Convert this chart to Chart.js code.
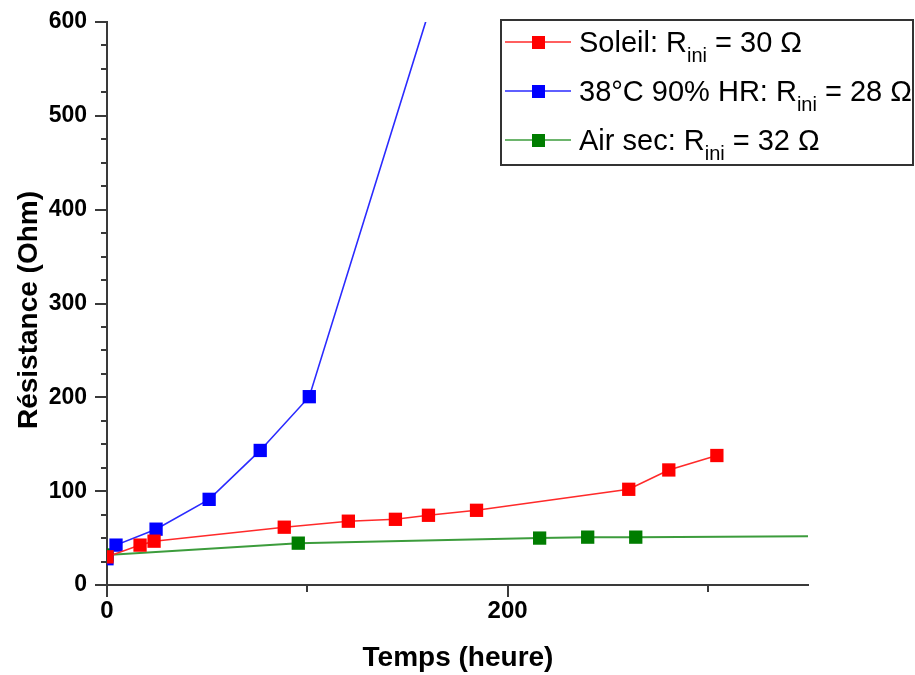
<!DOCTYPE html>
<html>
<head>
<meta charset="utf-8">
<script src="https://cdn.jsdelivr.net/npm/chart.js@4.4.0/dist/chart.umd.min.js"></script>
<style>
  html, body { margin: 0; padding: 0; background: #ffffff; }
  #wrap { width: 915px; height: 675px; }
</style>
</head>
<body>
<div id="wrap"><canvas id="c" width="915" height="675"></canvas></div>
<script>
// ---- data ----
const seriesNames = ['Soleil', '38°C 90% HR', 'Air sec'];
const rIni = [30, 28, 32];

const soleilT = [0, 16.5, 23.5, 88.5, 120.5, 144, 160.5, 184.5, 260.5, 280.5, 304.5];
const soleilR = [30, 42.5, 46.7, 61.6, 68, 70, 74.3, 79.6, 102, 122.6, 138];

const humideT = [0, 4.5, 24.5, 51, 76.5, 101, 170];
const humideR = [28, 42.5, 59.5, 91.3, 143.4, 200.7, 675];

const secT = [0, 95.5, 216, 240, 264, 360];
const secR = [32, 44.6, 50, 51, 51, 52];

const xTickLabels = [0, 200];
const yTickLabels = [0, 100, 200, 300, 400, 500, 600];

const xTitle = 'Temps (heure)';
const yTitle = 'Résistance (Ohm)';

const FONT = '"Liberation Sans", Arial, sans-serif';

function pts(t, r) { return t.map((v, i) => ({ x: v, y: r[i] })); }

const lineColors = ['#ff2a2a', '#2a2aff', '#3c9c3c'];
const markColors = ['#ff0000', '#0000ff', '#007d00'];

const decor = {
  id: 'decor',
  afterDraw(chart) {
    const ctx = chart.ctx;
    const xs = chart.scales.x, ys = chart.scales.y;
    const ax = xs.getPixelForValue(0);
    const ay = ys.getPixelForValue(0);
    ctx.save();
    // tick marks
    ctx.strokeStyle = '#3a3a3a';
    ctx.lineWidth = 2;
    ctx.beginPath();
    for (let v = 0; v <= 600; v += 25) {
      const y = Math.round(ys.getPixelForValue(v));
      const len = (v % 100 === 0) ? 12 : 6;
      ctx.moveTo(ax, y); ctx.lineTo(ax - len, y);
    }
    for (let v = 0; v <= 300; v += 100) {
      const x = Math.round(xs.getPixelForValue(v));
      const len = (v % 200 === 0) ? 12 : 7;
      ctx.moveTo(x, ay); ctx.lineTo(x, ay + len);
    }
    ctx.stroke();

    // axis titles
    ctx.fillStyle = '#000';
    ctx.font = 'bold 28px ' + FONT;
    ctx.textAlign = 'center';
    ctx.textBaseline = 'alphabetic';
    ctx.fillText(xTitle, 458, 666);
    ctx.save();
    ctx.translate(37, 310);
    ctx.rotate(-Math.PI / 2);
    ctx.fillText(yTitle, 0, 0);
    ctx.restore();

    // legend
    const bx = 501, by = 20, bw = 412, bh = 145;
    ctx.fillStyle = '#fff';
    ctx.fillRect(bx, by, bw, bh);
    ctx.strokeStyle = '#333';
    ctx.lineWidth = 2;
    ctx.strokeRect(bx, by, bw, bh);
    ctx.textAlign = 'left';
    for (let i = 0; i < 3; i++) {
      const y = 42 + i * 49;
      ctx.strokeStyle = lineColors[i];
      ctx.lineWidth = 1.5;
      ctx.beginPath(); ctx.moveTo(505, y); ctx.lineTo(571, y); ctx.stroke();
      ctx.fillStyle = markColors[i];
      ctx.fillRect(532, y - 6, 13, 13);
      ctx.fillStyle = '#000';
      let x = 579;
      ctx.font = '29px ' + FONT;
      const a = seriesNames[i] + ': R';
      ctx.fillText(a, x, y + 10);
      x += ctx.measureText(a).width;
      ctx.font = '20px ' + FONT;
      ctx.fillText('ini', x, y + 20);
      x += ctx.measureText('ini').width;
      ctx.font = '29px ' + FONT;
      ctx.fillText(' = ' + rIni[i] + ' Ω', x, y + 10);
    }
    ctx.restore();
  }
};

const common = { showLine: true, borderWidth: 1.6, pointStyle: 'rect', pointRadius: 9.4, pointBorderWidth: 0, pointHoverRadius: 9.4, clip: 0, tension: 0 };

new Chart(document.getElementById('c'), {
  type: 'scatter',
  data: {
    datasets: [
      Object.assign({}, common, { label: seriesNames[0], data: pts(soleilT, soleilR), borderColor: lineColors[0], backgroundColor: markColors[0], pointBackgroundColor: markColors[0] }),
      Object.assign({}, common, { label: seriesNames[1], data: pts(humideT, humideR), borderColor: lineColors[1], backgroundColor: markColors[1], pointBackgroundColor: markColors[1] }),
      Object.assign({}, common, { label: seriesNames[2], data: pts(secT, secR), borderColor: lineColors[2], borderWidth: 2, backgroundColor: markColors[2], pointBackgroundColor: markColors[2] })
    ]
  },
  options: {
    responsive: false,
    devicePixelRatio: 1,
    animation: false,
    events: [],
    layout: { padding: { left: 0, top: 22, right: 107, bottom: 0 } },
    plugins: { legend: { display: false }, tooltip: { enabled: false } },
    scales: {
      x: {
        type: 'linear', min: 0, max: 350,
        afterFit: s => { s.height = 90; s.paddingLeft = 0; s.paddingRight = 0; },
        grid: { display: false, drawTicks: false },
        border: { display: true, color: '#3a3a3a', width: 2 },
        ticks: {
          stepSize: 100, padding: 12, maxRotation: 0, autoSkip: false,
          color: '#000', font: { family: FONT, size: 24, weight: 'bold' },
          callback: v => xTickLabels.includes(v) ? String(v) : ''
        }
      },
      y: {
        type: 'linear', min: 0, max: 600,
        afterFit: s => { s.width = 107; s.paddingTop = 0; s.paddingBottom = 0; },
        grid: { display: false, drawTicks: false },
        border: { display: true, color: '#3a3a3a', width: 2 },
        ticks: {
          stepSize: 100, padding: 20,
          color: '#000', font: { family: FONT, size: 23, weight: 'bold' },
          callback: v => yTickLabels.includes(v) ? String(v) : ''
        }
      }
    }
  },
  plugins: [decor]
});
</script>
</body>
</html>
